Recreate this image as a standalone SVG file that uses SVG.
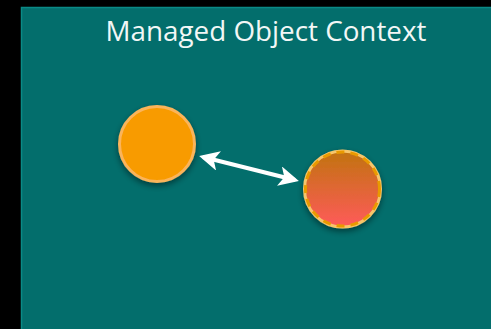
<svg xmlns="http://www.w3.org/2000/svg" width="491" height="329" viewBox="0 0 491 329">
<defs>
<style>
.title{font-family:"Open Sans","Liberation Sans",sans-serif;font-size:27.8px;fill:#f2f7f6;text-anchor:middle}
.conn{stroke:#ffffff;stroke-width:4;fill:none}
</style>
<linearGradient id="g2" x1="0" y1="0" x2="0" y2="1">
<stop offset="0" stop-color="#c1730f"/>
<stop offset="1" stop-color="#ff5a5a"/>
</linearGradient>
<filter id="sh" x="-30%" y="-30%" width="160%" height="170%">
<feDropShadow dx="0" dy="3" stdDeviation="3" flood-color="#000" flood-opacity="0.45"/>
</filter>
<marker id="ah" viewBox="0 0 10 10" refX="8" refY="5" markerWidth="5" markerHeight="5" orient="auto-start-reverse" markerUnits="strokeWidth">
<path d="M0,0 L10,5 L0,10 L2.5,5 Z" fill="#ffffff"/>
</marker>
</defs>
<rect width="491" height="329" fill="#000"/>
<rect x="21.5" y="7.5" width="475" height="325" fill="#036e6c" stroke="#0a8a86" stroke-width="1.5"/>
<text class="title" x="266" y="41">Managed Object Context</text>
<g id="connectors">
<line class="conn" x1="203" y1="157" x2="295" y2="180" marker-start="url(#ah)" marker-end="url(#ah)"/>
</g>
<g id="node1">
<circle cx="157" cy="144" r="37.5" fill="#f89b00" stroke="#fbb45a" stroke-width="3" filter="url(#sh)"/>
</g>
<g id="node2">
<circle cx="342.5" cy="189" r="38" fill="url(#g2)" stroke="#f7c56b" stroke-width="3" filter="url(#sh)"/>
<circle cx="342.5" cy="189" r="37" fill="none" stroke="#e99a00" stroke-width="3" stroke-dasharray="8 6"/>
</g>
</svg>
